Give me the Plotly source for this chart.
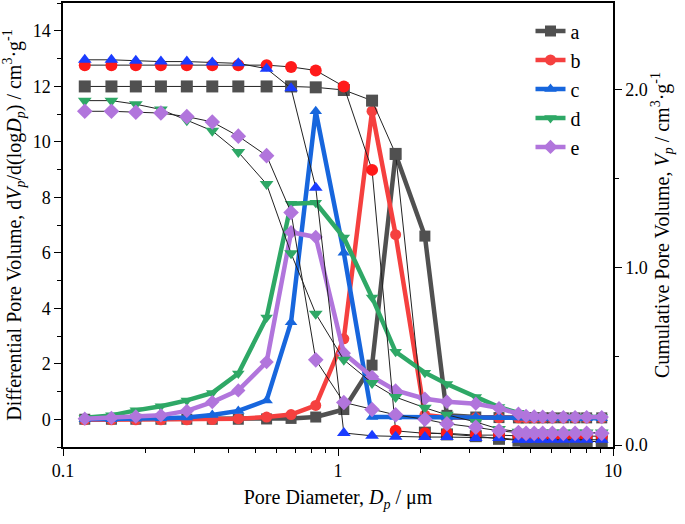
import plotly.graph_objects as go

# Pore diameter (um)
diameter = [0.12, 0.15, 0.184, 0.227, 0.282, 0.349, 0.434, 0.55, 0.675, 0.83,
            1.05, 1.33, 1.62, 2.07, 2.49, 3.17, 3.85, 4.53, 4.83, 5.17,
            5.55, 6.02, 6.6, 7.28, 8.02, 9.1]

# Differential pore volume (left axis)
diff_a = [0, 0, 0, 0, 0, 0, 0, 0.01, 0.03, 0.08, 0.35, 1.95, 9.55, 6.6, 0.14, 0.08,
          0.06, 0.05, 0.05, 0.05, 0.05, 0.05, 0.05, 0.05, 0.05, 0.05]
diff_b = [-0.02, -0.02, -0.02, -0.02, -0.02, -0.01, 0.02, 0.08, 0.17, 0.5, 2.9, 11.1,
          6.65, 0.15, 0.06, 0.05, 0.05, 0.05, 0.05, 0.05, 0.05, 0.05, 0.05, 0.05, 0.05, 0.05]
diff_c = [0, 0, 0.02, 0.04, 0.06, 0.15, 0.3, 0.68, 3.5, 11.1, 6.0, 0.08, 0.08, 0.08,
          0.08, 0.08, 0.08, 0.06, 0.05, 0.05, 0.04, 0.04, 0.04, 0.04, 0.04, 0.04]
diff_d = [0.05, 0.14, 0.32, 0.47, 0.68, 0.95, 1.65, 3.67, 7.77, 7.8, 6.55, 4.39, 2.43,
          1.68, 1.27, 0.8, 0.44, 0.23, 0.12, 0.1, 0.09, 0.08, 0.08, 0.08, 0.08, 0.08]
diff_e = [0.02, 0.05, 0.1, 0.14, 0.3, 0.62, 1.04, 2.06, 6.74, 6.57, 2.38, 1.53, 1.04,
          0.74, 0.63, 0.56, 0.4, 0.2, 0.12, 0.1, 0.09, 0.08, 0.08, 0.08, 0.08, 0.08]

# Cumulative pore volume (right axis)
cum_a = [2.02, 2.02, 2.02, 2.02, 2.02, 2.02, 2.02, 2.02, 2.02, 2.015, 2.0, 1.94, 1.64,
         0.07, 0.06, 0.05, 0.035, 0.025, 0.02, 0.02, 0.02, 0.02, 0.02, 0.02, 0.02, 0.02]
cum_b = [2.14, 2.14, 2.14, 2.14, 2.14, 2.14, 2.14, 2.14, 2.13, 2.11, 2.02, 1.55, 0.08,
         0.066, 0.066, 0.056, 0.056, 0.05, 0.05, 0.05, 0.05, 0.05, 0.05, 0.05, 0.05, 0.05]
cum_c = [2.17, 2.17, 2.165, 2.16, 2.16, 2.155, 2.15, 2.12, 2.01, 1.45, 0.068, 0.052, 0.047,
         0.045, 0.045, 0.04, 0.04, 0.03, 0.03, 0.03, 0.03, 0.03, 0.03, 0.03, 0.03, 0.03]
cum_d = [1.94, 1.94, 1.92, 1.89, 1.83, 1.77, 1.65, 1.47, 1.08, 0.74, 0.48, 0.35, 0.27,
         0.21, 0.17, 0.13, 0.09, 0.075, 0.07, 0.07, 0.07, 0.07, 0.07, 0.07, 0.07, 0.07]
cum_e = [1.88, 1.88, 1.875, 1.87, 1.85, 1.82, 1.74, 1.63, 1.31, 0.48, 0.24, 0.20, 0.17,
         0.145, 0.12, 0.10, 0.08, 0.07, 0.066, 0.066, 0.066, 0.066, 0.066, 0.066, 0.066, 0.066]

names = ["a", "b", "c", "d", "e"]
diffs = [diff_a, diff_b, diff_c, diff_d, diff_e]
cums = [cum_a, cum_b, cum_c, cum_d, cum_e]
line_colors = ["#505050", "#f5403f", "#1766dd", "#2ea866", "#b175dc"]
marker_colors = ["#505050", "#ff1a1a", "#1a3cff", "#2ea866", "#b175dc"]
symbols = ["square", "circle", "triangle-up", "triangle-down", "diamond"]

FONT = "Liberation Serif"

fig = go.Figure()

for n, d, lc, s in zip(names, diffs, line_colors, symbols):
    fig.add_trace(go.Scatter(
        x=diameter, y=d, name=n, mode="lines+markers",
        line=dict(color=lc, width=4.5),
        marker=dict(symbol=s, size=11, color=lc),
        yaxis="y",
    ))

for n, c, mc, s in zip(names, cums, marker_colors, symbols):
    fig.add_trace(go.Scatter(
        x=diameter, y=c, name=n + " cumulative", mode="lines+markers",
        line=dict(color="#222222", width=1),
        marker=dict(symbol=s, size=12, color=mc),
        yaxis="y2", showlegend=False,
    ))

minor_x = [0.2, 0.3, 0.4, 0.5, 0.6, 0.7, 0.8, 0.9, 2, 3, 4, 5, 6, 7, 8, 9]

fig.update_layout(
    width=685, height=524,
    margin=dict(l=63, r=72, t=3, b=77),
    plot_bgcolor="white", paper_bgcolor="white",
    font=dict(family=FONT, size=18, color="black"),
    showlegend=True,
    legend=dict(
        x=0.85, y=0.981, xanchor="left", yanchor="top",
        font=dict(family=FONT, size=20, color="black"),
        bgcolor="rgba(0,0,0,0)", borderwidth=0,
        tracegroupgap=0,
    ),
    xaxis=dict(
        type="log", range=[-1, 1], automargin=False,
        showline=True, linecolor="black", linewidth=1.5, mirror=True,
        ticks="outside", ticklen=7, tickwidth=1.2, tickcolor="black",
        tickvals=[0.1, 1, 10], ticktext=["0.1", "1", "10"],
        minor=dict(ticks="outside", ticklen=4, tickwidth=1, tickcolor="black",
                   tickvals=minor_x, showgrid=False),
        showgrid=False, zeroline=False,
        tickfont=dict(family=FONT, size=18),
        title=dict(text="Pore Diameter, <i>D</i><sub><i>p</i></sub> / μm",
                   font=dict(family=FONT, size=20), standoff=10),
    ),
    yaxis=dict(
        range=[-1, 15], automargin=False,
        showline=True, linecolor="black", linewidth=1.5,
        ticks="outside", ticklen=7, tickwidth=1.2, tickcolor="black",
        tickvals=[0, 2, 4, 6, 8, 10, 12, 14],
        minor=dict(ticks="outside", ticklen=4, tickwidth=1, tickcolor="black",
                   tickvals=[-1, 1, 3, 5, 7, 9, 11, 13, 15], showgrid=False),
        showgrid=False, zeroline=False,
        tickfont=dict(family=FONT, size=18),
        title=dict(text="Differential Pore Volume, d<i>V</i><sub><i>p</i></sub>/d(log<i>D</i><sub><i>p</i></sub>) / cm<sup>3</sup>·g<sup>-1</sup>",
                   font=dict(family=FONT, size=20), standoff=6),
    ),
    yaxis2=dict(
        overlaying="y", side="right", automargin=False,
        range=[-0.011, 2.49],
        showline=True, linecolor="black", linewidth=1.5,
        ticks="outside", ticklen=7, tickwidth=1.2, tickcolor="black",
        tickvals=[0, 1, 2], ticktext=["0.0", "1.0", "2.0"],
        minor=dict(ticks="outside", ticklen=4, tickwidth=1, tickcolor="black",
                   tickvals=[0.5, 1.5], showgrid=False),
        showgrid=False, zeroline=False,
        tickfont=dict(family=FONT, size=18),
        title=dict(text="Cumulative Pore Volume, <i>V</i><sub><i>p</i></sub> / cm<sup>3</sup>·g<sup>-1</sup>",
                   font=dict(family=FONT, size=20), standoff=8),
    ),
)

fig.write_html("out.html", config={"displayModeBar": False},
               post_script="document.body.style.margin='0';document.body.style.padding='0';document.body.style.overflow='hidden';")
